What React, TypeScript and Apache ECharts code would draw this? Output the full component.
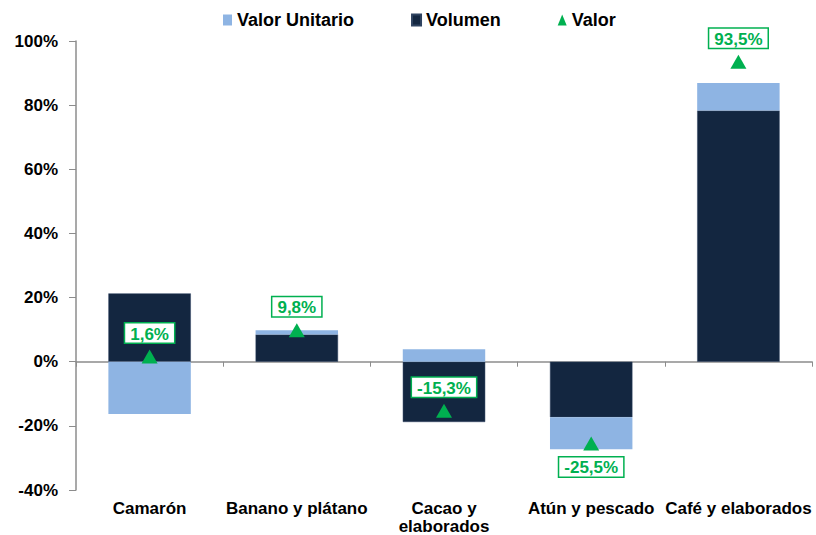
import React, { useEffect, useRef } from "react";
import * as echarts from "echarts";

const categories = ["Camarón", "Banano y plátano", "Cacao y\nelaborados", "Atún y pescado", "Café y elaborados"];
const valorUnitario = [-16.3, 1.3, 3.9, -10.0, 8.6];
const volumen = [21.3, 8.5, -18.8, -17.3, 78.3];
const valor = [1.6, 9.8, -15.3, -25.5, 93.5];
const valorLabelPos = ["top", "top", "top", "bottom", "top"];
const yTicks = { min: -40, max: 100, interval: 20 };

const FONT = "Arial, 'Liberation Sans', sans-serif";
const GREEN = "#00b050";

export default function App() {
  const ref = useRef<HTMLDivElement>(null);
  useEffect(() => {
    if (!ref.current) return;
    const chart = echarts.init(ref.current, null, { renderer: "svg" });
    chart.setOption({
      animation: false,
      textStyle: { fontFamily: FONT },
      legend: {
        top: 6,
        left: 218,
        itemGap: 57,
        itemWidth: 9,
        itemHeight: 11,
        textStyle: { fontSize: 18, fontWeight: "bold", color: "#000", fontFamily: FONT },
        data: [
          { name: "Valor Unitario", icon: "rect" },
          { name: "Volumen", icon: "rect" },
          { name: "Valor", icon: "triangle", itemStyle: { color: GREEN, opacity: 1 } },
        ],
      },
      grid: { left: 76, right: 4, top: 41, bottom: 40 },
      xAxis: [
        {
          type: "category",
          data: categories,
          position: "bottom",
          axisLine: { show: false, onZero: false },
          axisTick: { show: false },
          axisLabel: {
            interval: 0,
            fontSize: 17,
            fontWeight: "bold",
            color: "#000",
            margin: 9,
            lineHeight: 18,
            fontFamily: FONT,
          },
        },
        {
          type: "category",
          data: categories,
          position: "bottom",
          axisLine: { show: true, onZero: true, lineStyle: { color: "#8c8c8c", width: 1.5 } },
          axisTick: { show: true, length: 5, lineStyle: { color: "#8c8c8c" } },
          axisLabel: { show: false },
        },
      ],
      yAxis: {
        type: "value",
        min: yTicks.min,
        max: yTicks.max,
        interval: yTicks.interval,
        splitLine: { show: false },
        axisLine: { show: true, lineStyle: { color: "#8c8c8c", width: 1.5 } },
        axisTick: { show: true, length: 7, lineStyle: { color: "#8c8c8c" } },
        axisLabel: {
          formatter: (v: number) => `${v}%`,
          fontSize: 17,
          fontWeight: "bold",
          color: "#000",
          margin: 18,
          fontFamily: FONT,
        },
      },
      series: [
        {
          name: "Volumen",
          type: "bar",
          stack: "total",
          barWidth: "56%",
          itemStyle: { color: "#132640", borderColor: "#2f4360", borderWidth: 0.5 },
          data: volumen,
        },
        {
          name: "Valor Unitario",
          type: "bar",
          stack: "total",
          barWidth: "56%",
          itemStyle: { color: "#8eb4e3" },
          data: valorUnitario,
        },
        {
          name: "Valor",
          type: "scatter",
          symbol: "triangle",
          symbolSize: [16, 14],
          itemStyle: { color: GREEN, opacity: 1 },
          z: 5,
          data: valor.map((v, i) => ({
            value: v,
            label: {
              show: true,
              position: valorLabelPos[i],
              distance: 7,
              formatter: () => `${v.toFixed(1).replace(".", ",")}%`,
              color: GREEN,
              fontSize: 17,
              fontWeight: "bold",
              fontFamily: FONT,
              textBorderWidth: 0,
              backgroundColor: "#ffffff",
              borderColor: GREEN,
              borderWidth: 1.5,
              padding: [2, 5, 0, 5],
            },
          })),
        },
      ],
    });
    return () => chart.dispose();
  }, []);
  return (
    <div
      ref={ref}
      style={{ position: "absolute", left: 0, top: 0, width: 816, height: 535 }}
    />
  );
}
